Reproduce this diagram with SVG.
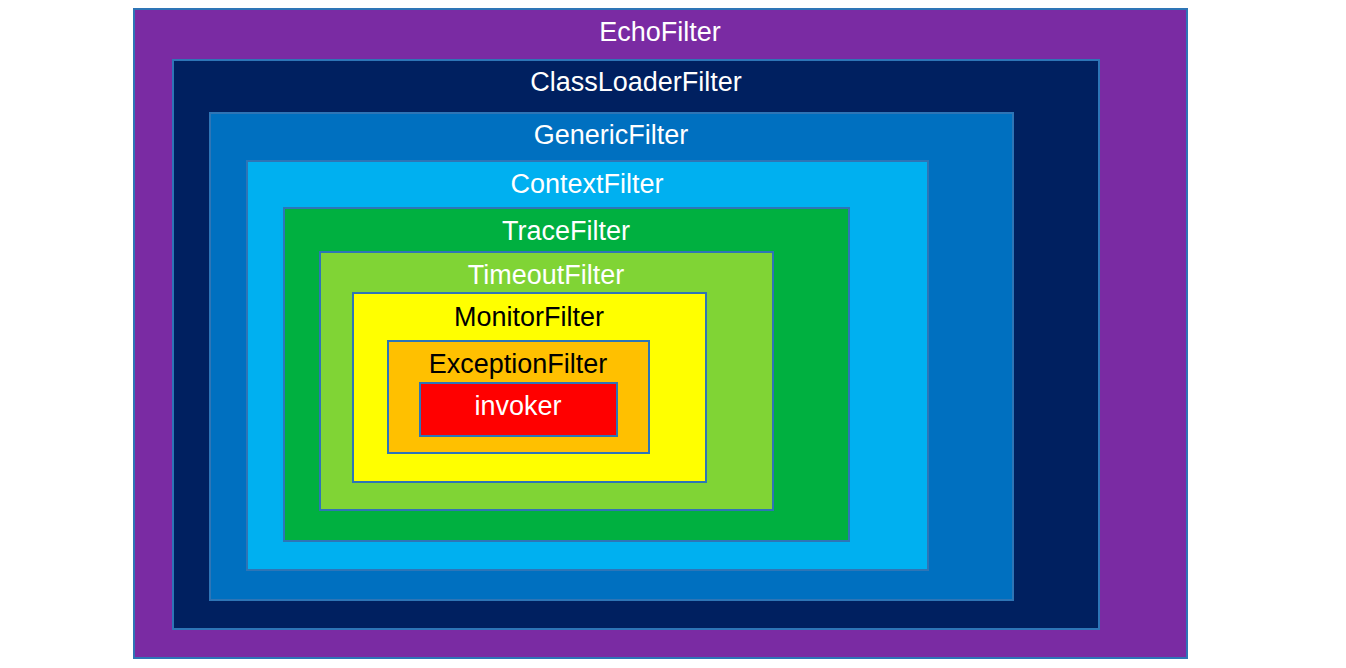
<svg xmlns="http://www.w3.org/2000/svg" width="1346" height="668" viewBox="0 0 1346 668">
<style>
rect.box{stroke:#2e75b6;stroke-width:2}
text{font-family:"Liberation Sans",Arial,sans-serif;font-size:27px;text-anchor:middle}
.w{fill:#ffffff}
.k{fill:#000000}
</style>
<rect width="1346" height="668" fill="#ffffff"/>
<g id="echo"><rect class="box" x="134" y="9" width="1053" height="649" fill="#7a2ba3"/><text class="w" x="660" y="41">EchoFilter</text></g>
<g id="classloader"><rect class="box" x="173" y="60" width="926" height="569" fill="#002060"/><text class="w" x="636" y="91">ClassLoaderFilter</text></g>
<g id="generic"><rect class="box" x="210" y="113" width="803" height="487" fill="#0070c0"/><text class="w" x="611" y="144">GenericFilter</text></g>
<g id="context"><rect class="box" x="247" y="161" width="681" height="409" fill="#00b0f0"/><text class="w" x="587" y="193">ContextFilter</text></g>
<g id="trace"><rect class="box" x="284" y="208" width="565" height="333" fill="#00b040"/><text class="w" x="566" y="240">TraceFilter</text></g>
<g id="timeout"><rect class="box" x="320" y="252" width="453" height="258" fill="#80d435"/><text class="w" x="546" y="284">TimeoutFilter</text></g>
<g id="monitor"><rect class="box" x="353" y="293" width="353" height="189" fill="#ffff00"/><text class="k" x="529" y="326">MonitorFilter</text></g>
<g id="exception"><rect class="box" x="388" y="341" width="261" height="112" fill="#ffc000"/><text class="k" x="518" y="373">ExceptionFilter</text></g>
<g id="invoker"><rect class="box" x="420" y="383" width="197" height="53" fill="#ff0000"/><text class="w" x="518" y="415">invoker</text></g>
<g id="connectors"/>
</svg>
